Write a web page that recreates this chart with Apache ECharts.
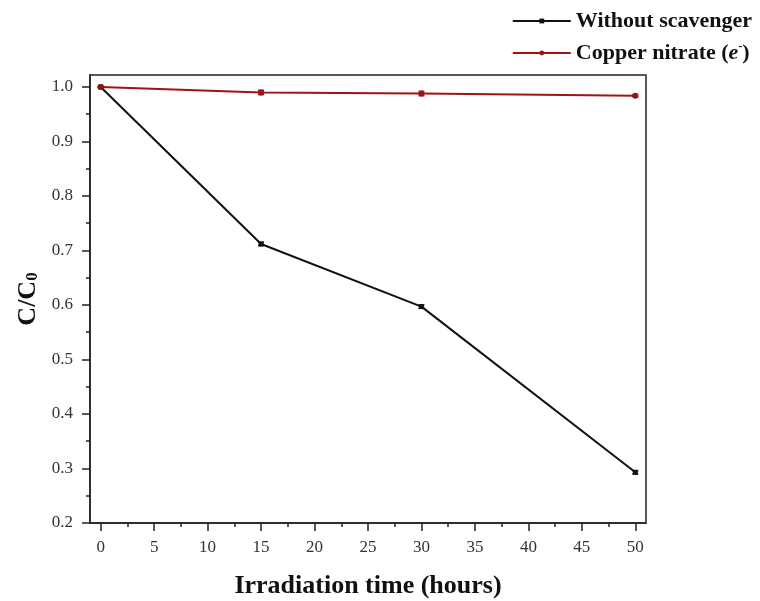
<!DOCTYPE html>
<html>
<head>
<meta charset="utf-8">
<script src="https://cdn.jsdelivr.net/npm/echarts@6/dist/echarts.min.js"></script>
<style>html,body{margin:0;padding:0;background:#fff}#c{width:760px;height:601px}</style>
</head>
<body>
<div id="c"></div>
<script>
const times = [0, 15, 30, 50];
const withoutScavenger = [1.0, 0.712, 0.597, 0.293];
const withoutErr = [0.001, 0.003, 0.003, 0.003];
const copperNitrate = [1.0, 0.990, 0.988, 0.984];
const copperErr = [0.001, 0.004, 0.004, 0.002];
const xTicks = [0, 5, 10, 15, 20, 25, 30, 35, 40, 45, 50];
const xMinor = [2.5, 7.5, 12.5, 17.5, 22.5, 27.5, 32.5, 37.5, 42.5, 47.5];
const yTicks = [0.2, 0.3, 0.4, 0.5, 0.6, 0.7, 0.8, 0.9, 1.0];
const yMinor = [0.25, 0.35, 0.45, 0.55, 0.65, 0.75, 0.85, 0.95];

const FONT = '"Liberation Serif", "DejaVu Serif", serif';
const BLACK = '#111111';
const RED = '#9c1414';

function errSeries(name, vals, errs, color) {
  return {
    type: 'custom',
    name: name + '_err',
    xAxisIndex: 0, yAxisIndex: 0,
    silent: true,
    z: 4,
    data: times.map((t, i) => [t, vals[i], errs[i]]),
    renderItem: function (params, api) {
      const x = api.value(0), y = api.value(1), e = api.value(2);
      const hi = api.coord([x, y + e]);
      const lo = api.coord([x, y - e]);
      const w = 3;
      const st = { stroke: color, lineWidth: 1.5 };
      return {
        type: 'group',
        children: [
          { type: 'line', shape: { x1: hi[0], y1: hi[1], x2: lo[0], y2: lo[1] }, style: st },
          { type: 'line', shape: { x1: hi[0] - w, y1: hi[1], x2: hi[0] + w, y2: hi[1] }, style: st },
          { type: 'line', shape: { x1: lo[0] - w, y1: lo[1], x2: lo[0] + w, y2: lo[1] }, style: st }
        ]
      };
    }
  };
}

const chart = echarts.init(document.getElementById('c'), null, { renderer: 'canvas' });
const baseX = { type: 'value', min: -1, max: 51 };
const baseY = { type: 'value', min: 0.2, max: 1.022 };
chart.setOption({
  animation: false,
  backgroundColor: '#fff',
  textStyle: { fontFamily: FONT },
  grid: { left: 90, right: 114, top: 75, bottom: 78, show: true, borderColor: '#222', borderWidth: 1.5, backgroundColor: 'transparent', containLabel: false, outerBoundsMode: 'none' },
  legend: {
    right: 3, top: 5, orient: 'vertical', itemWidth: 58, itemHeight: 6, itemGap: 9,
    data: ['Without scavenger', 'Copper nitrate'],
    textStyle: { fontFamily: FONT, fontSize: 22, fontWeight: 'bold', color: '#111',
      rich: {
        b: { fontFamily: FONT, fontSize: 22, fontWeight: 'bold', color: '#111' },
        i: { fontFamily: FONT, fontSize: 22, fontWeight: 'bold', fontStyle: 'italic', color: '#111' },
        sup: { fontFamily: FONT, fontSize: 12, fontWeight: 'bold', color: '#111', verticalAlign: 'top', padding: [0, 0, 12, 0] }
      } },
    formatter: function (n) {
      if (n === 'Copper nitrate') return '{b|Copper nitrate (}{i|e}{sup|-}{b|)}';
      return n;
    }
  },
  xAxis: [
    Object.assign({}, baseX, {
      position: 'bottom',
      name: 'Irradiation time (hours)', nameLocation: 'middle', nameGap: 50,
      nameTextStyle: { fontFamily: FONT, fontSize: 26, fontWeight: 'bold', color: '#111' },
      axisLine: { show: true, onZero: false, lineStyle: { color: '#222', width: 1.5 } },
      axisTick: { show: true, inside: false, length: 8, customValues: xTicks, lineStyle: { color: '#222', width: 1.5 } },
      axisLabel: { customValues: xTicks, margin: 16, fontFamily: FONT, fontSize: 17, color: '#333' },
      splitLine: { show: false }
    }),
    Object.assign({}, baseX, {
      position: 'bottom',
      axisLine: { show: false, onZero: false },
      axisTick: { show: true, inside: false, length: 4, customValues: xMinor, lineStyle: { color: '#222', width: 1.5 } },
      axisLabel: { show: false },
      splitLine: { show: false }
    })
  ],
  yAxis: [
    Object.assign({}, baseY, {
      position: 'left',
      name: '{m|C/C}{s|0}', nameLocation: 'middle', nameGap: 43, nameRotate: 90,
      nameTextStyle: { fontFamily: FONT, fontSize: 26, fontWeight: 'bold', color: '#111',
        rich: {
          m: { fontFamily: FONT, fontSize: 26, fontWeight: 'bold', color: '#111' },
          s: { fontFamily: FONT, fontSize: 17, fontWeight: 'bold', color: '#111', verticalAlign: 'bottom', padding: [9, 0, 0, 0] }
        } },
      axisLine: { show: true, onZero: false, lineStyle: { color: '#222', width: 1.5 } },
      axisTick: { show: true, inside: false, length: 8, customValues: yTicks, lineStyle: { color: '#222', width: 1.5 } },
      axisLabel: { customValues: yTicks, margin: 17, fontFamily: FONT, fontSize: 17, color: '#333',
        formatter: v => v.toFixed(1) },
      splitLine: { show: false }
    }),
    Object.assign({}, baseY, {
      position: 'left',
      axisLine: { show: false, onZero: false },
      axisTick: { show: true, inside: false, length: 4, customValues: yMinor, lineStyle: { color: '#222', width: 1.5 } },
      axisLabel: { show: false },
      splitLine: { show: false }
    })
  ],
  series: [
    {
      name: 'Without scavenger', type: 'line', xAxisIndex: 0, yAxisIndex: 0,
      data: times.map((t, i) => [t, withoutScavenger[i]]),
      symbol: 'rect', symbolSize: 5, showSymbol: true,
      lineStyle: { color: BLACK, width: 2 }, itemStyle: { color: BLACK }, z: 3
    },
    {
      name: 'Copper nitrate', type: 'line', xAxisIndex: 0, yAxisIndex: 0,
      data: times.map((t, i) => [t, copperNitrate[i]]),
      symbol: 'circle', symbolSize: 6, showSymbol: true,
      lineStyle: { color: RED, width: 2 }, itemStyle: { color: RED }, z: 3
    },
    errSeries('Without scavenger', withoutScavenger, withoutErr, BLACK),
    errSeries('Copper nitrate', copperNitrate, copperErr, RED)
  ]
});
</script>
</body>
</html>
